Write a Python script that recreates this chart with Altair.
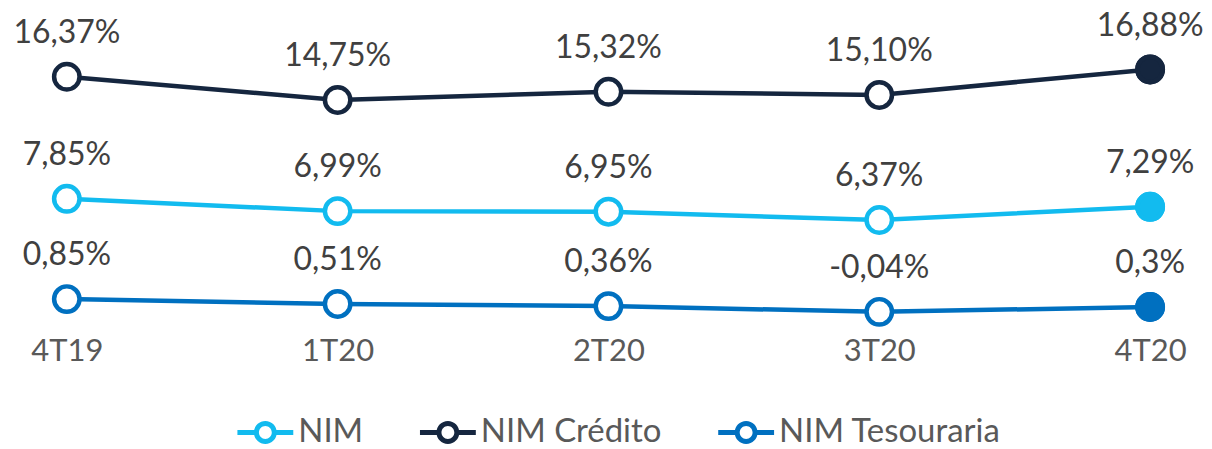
import altair as alt
import pandas as pd

quarters = ["4T19", "1T20", "2T20", "3T20", "4T20"]
series_names = ["NIM", "NIM Crédito", "NIM Tesouraria"]
nim = [7.85, 6.99, 6.95, 6.37, 7.29]
nim_credito = [16.37, 14.75, 15.32, 15.10, 16.88]
nim_tesouraria = [0.85, 0.51, 0.36, -0.04, 0.30]
nim_labels = ["7,85%", "6,99%", "6,95%", "6,37%", "7,29%"]
nim_credito_labels = ["16,37%", "14,75%", "15,32%", "15,10%", "16,88%"]
nim_tesouraria_labels = ["0,85%", "0,51%", "0,36%", "-0,04%", "0,3%"]
colors = ["#12BBEF", "#15263F", "#0070C0"]

rows = []
for name, vals, labs in zip(series_names,
                            [nim, nim_credito, nim_tesouraria],
                            [nim_labels, nim_credito_labels, nim_tesouraria_labels]):
    for i, (q, v, l) in enumerate(zip(quarters, vals, labs)):
        rows.append({"quarter": q, "series": name, "value": v, "label": l,
                     "last": i == len(quarters) - 1})
df = pd.DataFrame(rows)

FONT = "Lato"

x = alt.X("quarter:N", sort=quarters,
          scale=alt.Scale(type="point", padding=0.1915, align=0.567),
          axis=alt.Axis(title=None, domain=False, ticks=False, grid=False,
                        labelAngle=0, labelFontSize=31, labelColor="#595959",
                        labelFont=FONT, labelPadding=7))
y = alt.Y("value:Q", scale=alt.Scale(domain=[-1.29, 21.13], nice=False, zero=False),
          axis=None)

# legend glyph: line - hollow ring - line, drawn as a filled path (ring hole via winding)
legend_symbol = ("M-1,-0.09H-0.39V0.09H-1Z"
                 "M0.39,-0.09H1V0.09H0.39Z"
                 "M-0.41,0A0.41,0.41 0 1,1 0.41,0A0.41,0.41 0 1,1 -0.41,0Z"
                 "M-0.23,0A0.23,0.23 0 1,0 0.23,0A0.23,0.23 0 1,0 -0.23,0Z")

color_scale = alt.Scale(domain=series_names, range=colors)

stroke = alt.Stroke("series:N", sort=series_names, scale=color_scale,
                    legend=alt.Legend(title=None, orient="none", direction="horizontal",
                                      legendX=230, legendY=397,
                                      symbolType=legend_symbol, symbolSize=3136,
                                      symbolStrokeWidth=0, symbolFillColor="white",
                                      labelFontSize=33, labelFont=FONT, labelLimit=0,
                                      labelColor="#595959", labelOffset=5,
                                      columnPadding=56))
stroke_nolegend = alt.Stroke("series:N", sort=series_names, scale=color_scale, legend=None)

base = alt.Chart(df)

lines = base.mark_line(strokeWidth=4.5).encode(x=x, y=y, stroke=stroke)

hollow = base.mark_point(filled=False, size=650, strokeWidth=4.5, opacity=1,
                         fill="white").encode(x=x, y=y, stroke=stroke_nolegend)

solid = base.transform_filter("datum.last").mark_point(
    filled=True, size=650, strokeWidth=4.5, opacity=1).encode(
    x=x, y=y, stroke=stroke_nolegend,
    fill=alt.Fill("series:N", scale=color_scale, legend=None))

texts = base.mark_text(fontSize=32, font=FONT, color="#404040", dy=-34,
                       baseline="alphabetic", align="center").encode(
    x=x, y=y, text="label:N")

chart = alt.layer(lines, hollow, solid, texts).properties(
    width=1190, height=322, padding=0
).configure_view(stroke=None)

chart.save("out.html", embed_options={"renderer": "svg", "actions": False})
